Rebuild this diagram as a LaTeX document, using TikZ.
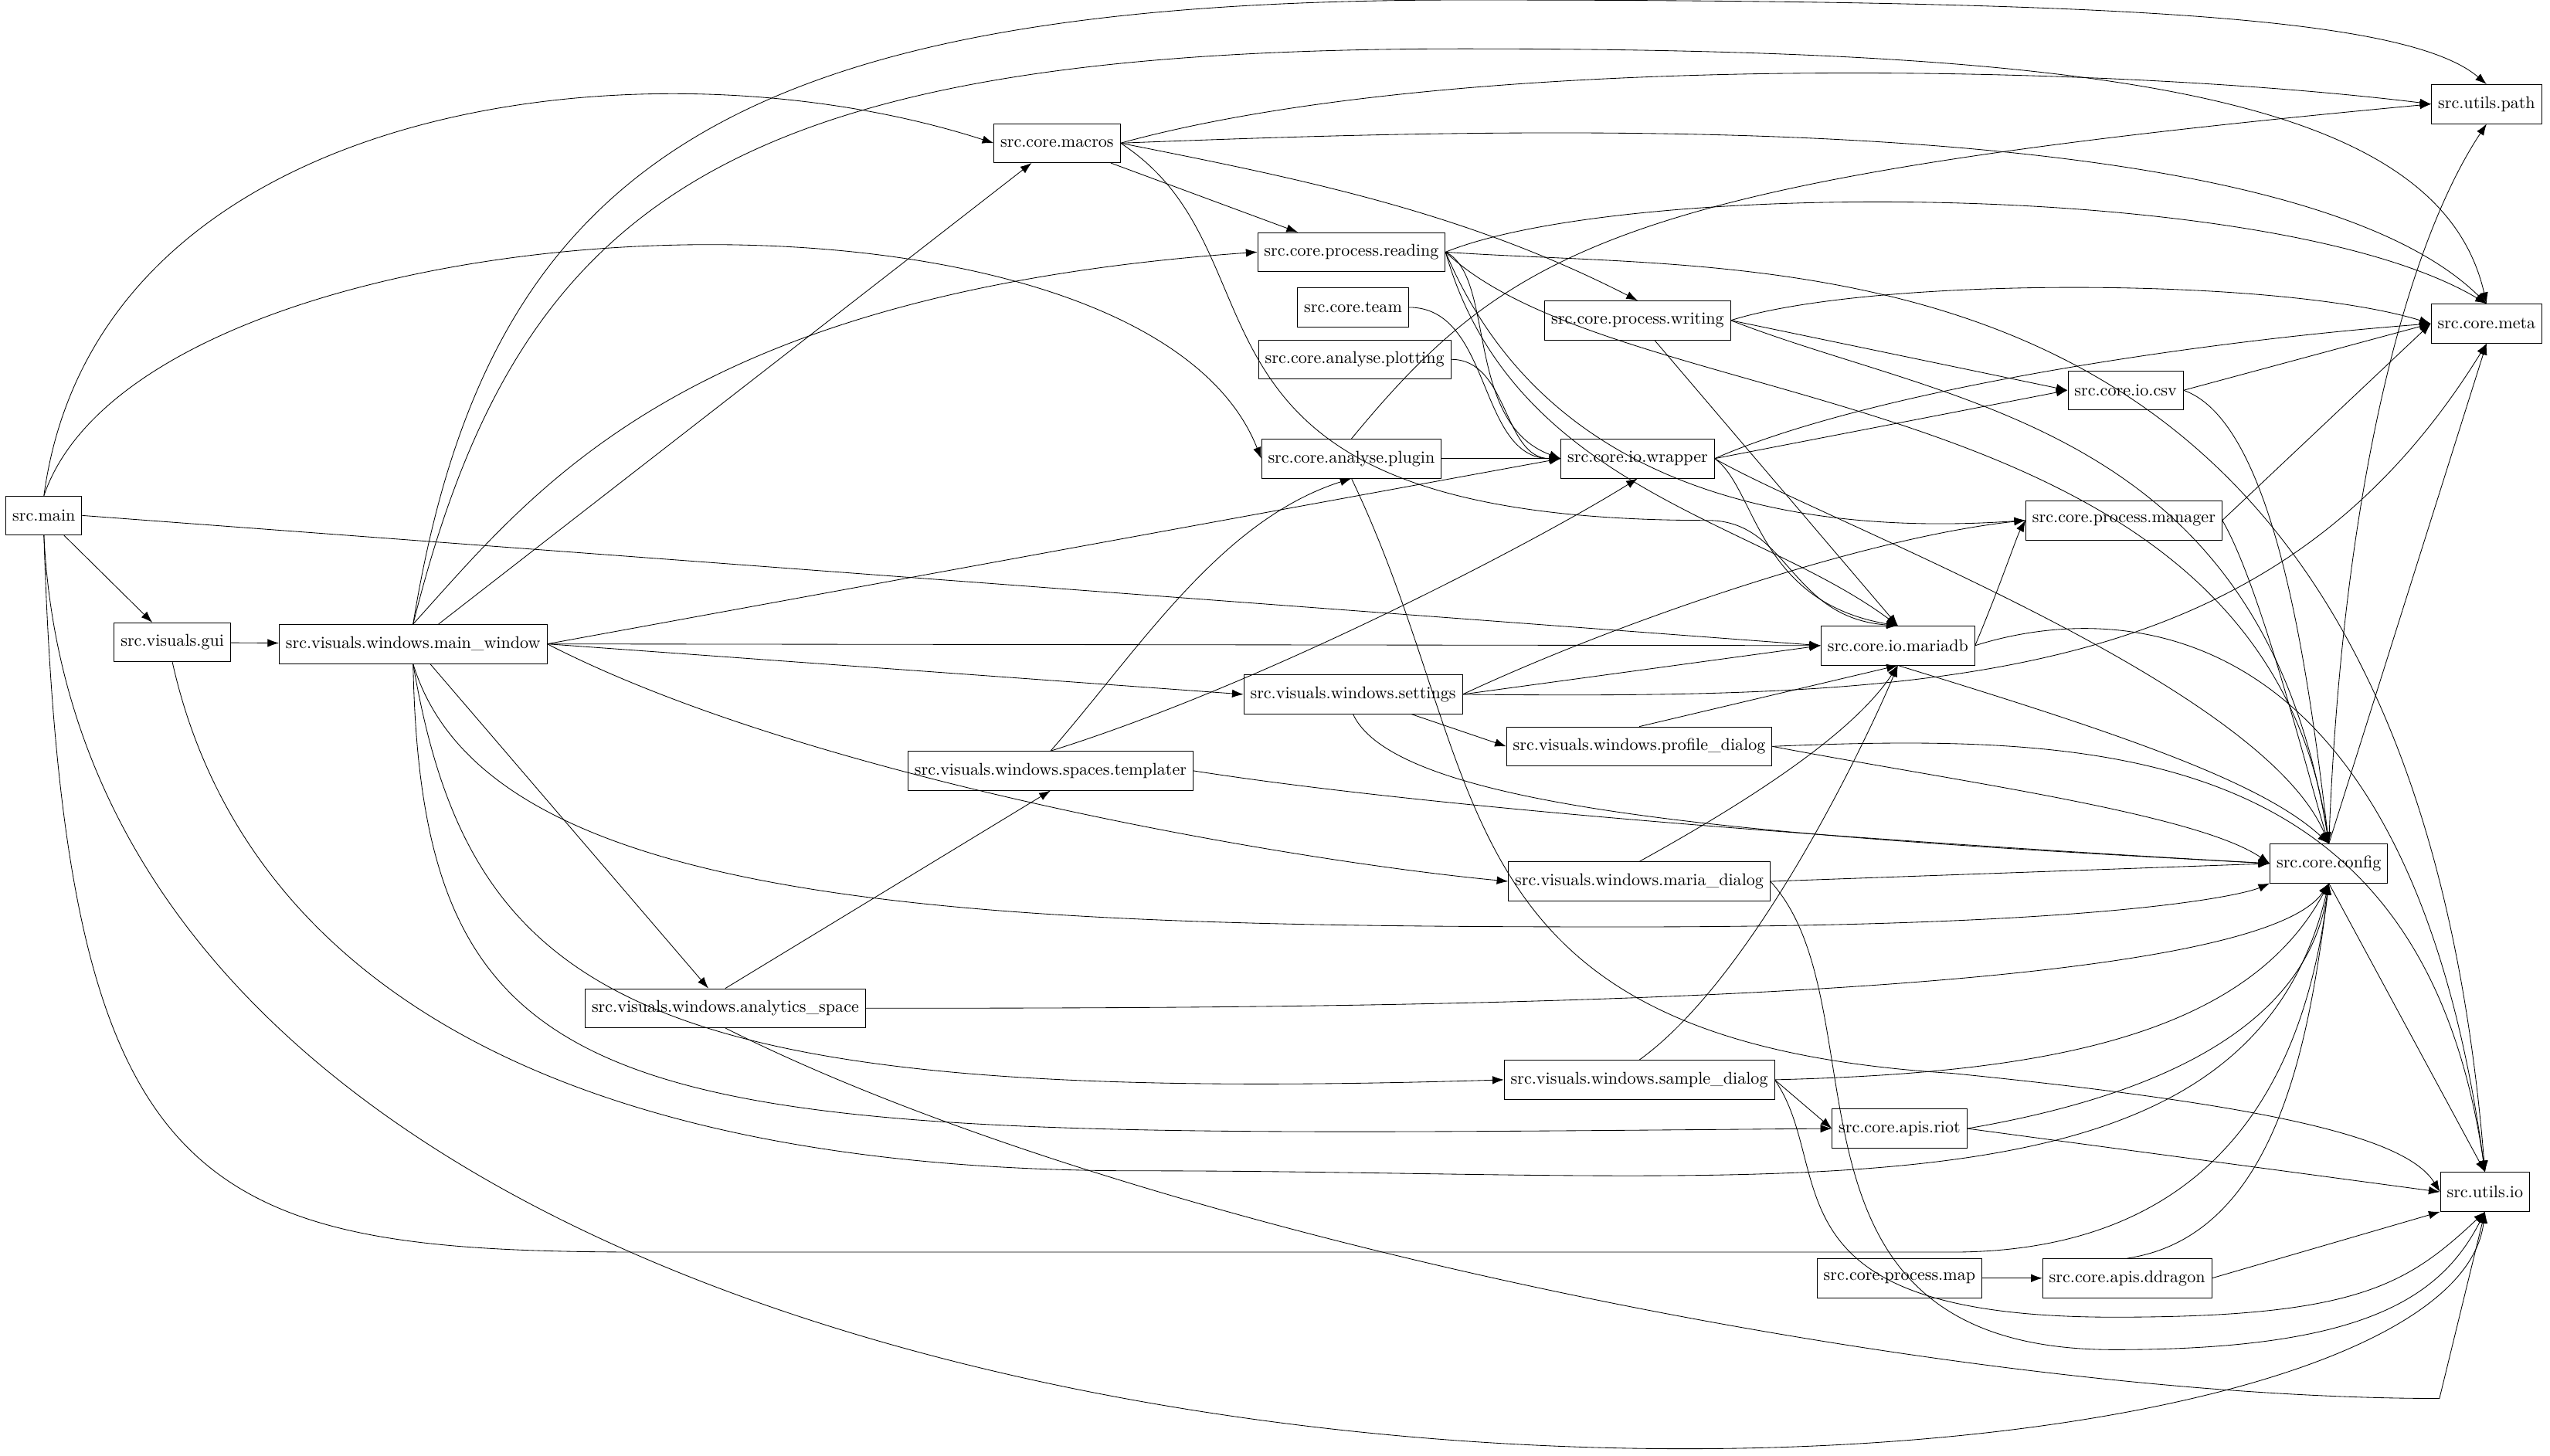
\documentclass[tikz,border=0pt]{standalone}
\usepackage{tikz}
\usetikzlibrary{arrows.meta}
\begin{document}
\begin{tikzpicture}[x=1pt,y=1pt,
  mod/.style={draw,rectangle,minimum height=24pt,inner sep=4pt,font=\fontsize{10.5}{12}\selectfont},
  dep/.style={-{Latex[length=7pt,width=5pt]},thin}]
\useasboundingbox (0,0) rectangle (1568,-895);

\node[mod] (main) at (27,-317) {src.main};
\node[mod] (gui) at (106,-395) {src.visuals.gui};
\node[mod] (mainwin) at (254,-396) {src.visuals.windows.main\_window};
\node[mod] (macros) at (650,-88) {src.core.macros};
\node[mod] (reading) at (831,-155) {src.core.process.reading};
\node[mod] (team) at (832,-189) {src.core.team};
\node[mod] (plotting) at (833,-221) {src.core.analyse.plotting};
\node[mod] (plugin) at (831,-282) {src.core.analyse.plugin};
\node[mod] (writing) at (1007,-197) {src.core.process.writing};
\node[mod] (wrapper) at (1007,-282) {src.core.io.wrapper};
\node[mod] (csv) at (1307,-240) {src.core.io.csv};
\node[mod] (manager) at (1306,-320) {src.core.process.manager};
\node[mod] (mariadb) at (1167,-397) {src.core.io.mariadb};
\node[mod] (upath) at (1529,-64) {src.utils.path};
\node[mod] (meta) at (1529,-199) {src.core.meta};
\node[mod] (config) at (1432,-531) {src.core.config};
\node[mod] (uio) at (1528,-733) {src.utils.io};
\node[mod] (settings) at (832,-427) {src.visuals.windows.settings};
\node[mod] (profile) at (1008,-459) {src.visuals.windows.profile\_dialog};
\node[mod] (templater) at (646,-474) {src.visuals.windows.spaces.templater};
\node[mod] (maria) at (1008,-542) {src.visuals.windows.maria\_dialog};
\node[mod] (analytics) at (446,-620) {src.visuals.windows.analytics\_space};
\node[mod] (sample) at (1008,-664) {src.visuals.windows.sample\_dialog};
\node[mod] (riot) at (1168,-694) {src.core.apis.riot};
\node[mod] (pmap) at (1168,-786) {src.core.process.map};
\node[mod] (ddragon) at (1308,-786) {src.core.apis.ddragon};

% src.main
\draw[dep] (main.north) .. controls (60,-60) and (400,-20) .. (macros.west);
\draw[dep] (main.north) .. controls (90,-120) and (700,-90) .. (plugin.west);
\draw[dep] (main.east) -- (mariadb.west);
\draw[dep] (main) -- (gui);
\draw[dep] (main.south) .. controls (40,-740) and (120,-770) .. (400,-770) -- (1200,-770) .. controls (1380,-770) and (1420,-640) .. (config.south);
\draw[dep] (main.south) .. controls (60,-1000) and (1500,-970) .. (uio.south);
% gui
\draw[dep] (gui) -- (mainwin);
\draw[dep] (gui.south) .. controls (140,-560) and (280,-720) .. (700,-720) .. controls (1100,-720) and (1380,-760) .. (config.south);
% main window
\draw[dep] (mainwin.north) .. controls (300,-100) and (450,0) .. (900,0) .. controls (1300,0) and (1480,-10) .. (upath.north);
\draw[dep] (mainwin.north) .. controls (320,-120) and (450,-30) .. (900,-30) .. controls (1300,-30) and (1500,-60) .. (meta.north);
\draw[dep] (mainwin) -- (macros);
\draw[dep] (mainwin.north) .. controls (330,-300) and (420,-180) .. (reading.west);
\draw[dep] (mainwin.east) -- (wrapper.west);
\draw[dep] (mainwin.east) -- (mariadb.west);
\draw[dep] (mainwin.east) -- (settings.west);
\draw[dep] (mainwin.east) .. controls (500,-480) and (800,-530) .. (maria.west);
\draw[dep] (mainwin.south) .. controls (300,-560) and (600,-570) .. (1000,-570) .. controls (1300,-570) and (1380,-550) .. (config.south west);
\draw[dep] (mainwin) -- (analytics);
\draw[dep] (mainwin.south) .. controls (290,-620) and (400,-680) .. (sample.west);
\draw[dep] (mainwin.south) .. controls (260,-710) and (400,-700) .. (riot.west);
% macros
\draw[dep] (macros.east) .. controls (900,-30) and (1300,-40) .. (upath.west);
\draw[dep] (macros.east) .. controls (900,-80) and (1400,-60) .. (meta.north);
\draw[dep] (macros) -- (reading);
\draw[dep] (macros.east) .. controls (800,-110) and (900,-130) .. (writing.north);
\draw[dep] (macros.east) .. controls (800,-160) and (700,-320) .. (1050,-320) .. controls (1100,-320) and (1100,-380) .. (mariadb.north);
% reading
\draw[dep] (reading.east) .. controls (1000,-110) and (1400,-110) .. (meta.north);
\draw[dep] (reading.east) .. controls (1100,-170) and (1480,-130) .. (uio.north);
\draw[dep] (reading.east) .. controls (920,-170) and (900,-260) .. (wrapper.west);
\draw[dep] (reading.east) .. controls (950,-300) and (1100,-330) .. (manager.west);
\draw[dep] (reading.east) .. controls (930,-300) and (1080,-320) .. (mariadb.north);
\draw[dep] (reading.east) .. controls (1000,-260) and (1390,-230) .. (config.north);
\draw[dep] (team) to[out=0,in=180] (wrapper.west);
\draw[dep] (plotting) to[out=0,in=180] (wrapper.west);
% plugin
\draw[dep] (plugin) -- (wrapper);
\draw[dep] (plugin.north) .. controls (930,-150) and (1000,-110) .. (upath.west);
\draw[dep] (plugin.south) .. controls (920,-480) and (880,-640) .. (1200,-660) .. controls (1400,-680) and (1480,-700) .. (uio.west);
% writing
\draw[dep] (writing.east) .. controls (1150,-170) and (1400,-170) .. (meta.west);
\draw[dep] (writing.east) -- (csv.west);
\draw[dep] (writing.east) .. controls (1200,-250) and (1390,-260) .. (config.north);
\draw[dep] (writing) -- (mariadb.north);
% wrapper
\draw[dep] (wrapper.east) -- (csv.west);
\draw[dep] (wrapper.east) .. controls (1150,-240) and (1350,-210) .. (meta.west);
\draw[dep] (wrapper.east) .. controls (1080,-300) and (1080,-370) .. (mariadb.north);
\draw[dep] (wrapper.east) .. controls (1120,-320) and (1390,-420) .. (config.north);
% csv, manager
\draw[dep] (csv.east) -- (meta.west);
\draw[dep] (csv.east) .. controls (1400,-260) and (1420,-420) .. (config.north);
\draw[dep] (manager.east) -- (meta.west);
\draw[dep] (manager.east) .. controls (1390,-360) and (1420,-480) .. (config.north);
% mariadb
\draw[dep] (mariadb.east) .. controls (1230,-360) and (1240,-330) .. (manager.west);
\draw[dep] (mariadb.east) .. controls (1300,-370) and (1480,-370) .. (uio.north);
\draw[dep] (mariadb.south) .. controls (1300,-450) and (1390,-480) .. (config.north);
% settings
\draw[dep] (settings.east) .. controls (1000,-380) and (1150,-330) .. (manager.west);
\draw[dep] (settings.east) -- (mariadb.west);
\draw[dep] (settings.east) .. controls (1200,-430) and (1400,-420) .. (meta.south);
\draw[dep] (settings) -- (profile.west);
\draw[dep] (settings.south) .. controls (860,-500) and (1100,-515) .. (config.west);
% profile
\draw[dep] (profile.north) -- (mariadb.south);
\draw[dep] (profile.east) .. controls (1200,-480) and (1350,-500) .. (config.west);
\draw[dep] (profile.east) .. controls (1300,-450) and (1490,-460) .. (uio.north);
% templater
\draw[dep] (templater.north) .. controls (700,-400) and (750,-320) .. (plugin.south);
\draw[dep] (templater.north) .. controls (780,-420) and (950,-330) .. (wrapper.south);
\draw[dep] (templater.east) .. controls (900,-500) and (1200,-520) .. (config.west);
% maria
\draw[dep] (maria.north) .. controls (1080,-490) and (1140,-450) .. (mariadb.south);
\draw[dep] (maria.east) -- (config.west);
\draw[dep] (maria.east) .. controls (1160,-620) and (1080,-830) .. (1300,-830) .. controls (1450,-830) and (1500,-800) .. (uio.south);
% analytics
\draw[dep] (analytics.north) -- (templater.south);
\draw[dep] (analytics.east) .. controls (800,-620) and (1380,-620) .. (config.south);
\draw[dep] (analytics.south) .. controls (700,-760) and (1200,-860) .. (1500,-860) -- (uio.south);
% sample
\draw[dep] (sample.north) .. controls (1080,-600) and (1150,-450) .. (mariadb.south);
\draw[dep] (sample.east) .. controls (1250,-660) and (1380,-640) .. (config.south);
\draw[dep] (sample.east) -- (riot.west);
\draw[dep] (sample.east) .. controls (1130,-720) and (1080,-810) .. (1300,-810) .. controls (1450,-810) and (1480,-790) .. (uio.south);
% riot, map, ddragon
\draw[dep] (riot.east) .. controls (1350,-670) and (1420,-620) .. (config.south);
\draw[dep] (riot.east) -- (uio.west);
\draw[dep] (pmap) -- (ddragon);
\draw[dep] (ddragon.north) .. controls (1400,-760) and (1420,-640) .. (config.south);
\draw[dep] (ddragon.east) -- (uio.south west);
% config
\draw[dep] (config.north) .. controls (1440,-300) and (1480,-150) .. (upath.south);
\draw[dep] (config.north) -- (meta.south);
\draw[dep] (config.south) -- (uio.north);
\end{tikzpicture}
\end{document}
